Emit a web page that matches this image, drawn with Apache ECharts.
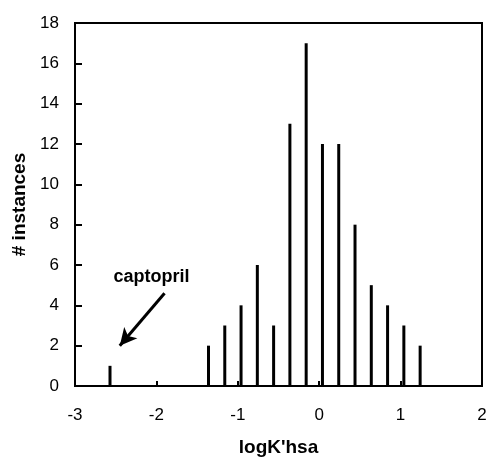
<!DOCTYPE html>
<html>
<head>
<meta charset="utf-8">
<script src="https://cdn.jsdelivr.net/npm/echarts@6/dist/echarts.min.js"></script>
<style>
  html, body { margin: 0; padding: 0; background: #fff; }
  #chart { width: 489px; height: 458px; }
</style>
</head>
<body>
<div id="chart"></div>
<script>
  // logK'hsa bin positions and counts
  const binX = [-2.57, -1.36, -1.16, -0.96, -0.76, -0.56, -0.36, -0.16, 0.04, 0.24, 0.44, 0.64, 0.84, 1.04, 1.24];
  const counts = [1, 2, 3, 4, 6, 3, 13, 17, 12, 12, 8, 5, 4, 3, 2];
  const xTicks = [-3, -2, -1, 0, 1, 2];
  const yTicks = [0, 2, 4, 6, 8, 10, 12, 14, 16, 18];
  // annotation arrow (data coords) and its label
  const arrowFrom = [-1.9, 4.6];
  const arrowTo = [-2.45, 2.0];
  const labelAt = [-2.06, 5.4];

  const font = 'Liberation Sans, Arial, Helvetica, sans-serif';
  const chart = echarts.init(document.getElementById('chart'));
  chart.setOption({
    animation: false,
    grid: {
      left: 75,
      right: 7,
      top: 23,
      bottom: 72,
      outerBoundsMode: 'none',
      show: true,
      borderColor: '#000',
      borderWidth: 2
    },
    xAxis: {
      type: 'value',
      min: xTicks[0],
      max: xTicks[xTicks.length - 1],
      interval: 1,
      name: "logK'hsa",
      nameLocation: 'middle',
      nameGap: 52,
      nameTextStyle: { color: '#000', fontSize: 19, fontWeight: 'bold', fontFamily: font },
      axisLine: { onZero: false, lineStyle: { color: '#000', width: 2 } },
      axisTick: { inside: true, length: 5, lineStyle: { color: '#000', width: 2 } },
      axisLabel: { color: '#000', fontSize: 17, fontFamily: font, margin: 21 },
      splitLine: { show: false }
    },
    yAxis: {
      type: 'value',
      min: yTicks[0],
      max: yTicks[yTicks.length - 1],
      interval: 2,
      name: '# instances',
      nameLocation: 'middle',
      nameGap: 45,
      nameTextStyle: { color: '#000', fontSize: 19, fontWeight: 'bold', fontFamily: font },
      axisLine: { show: true, onZero: false, lineStyle: { color: '#000', width: 2 } },
      axisTick: { show: true, inside: true, length: 7, lineStyle: { color: '#000', width: 2 } },
      axisLabel: { color: '#000', fontSize: 17, fontFamily: font, margin: 16 },
      splitLine: { show: false }
    },
    series: [
      {
        type: 'bar',
        data: binX.map((x, i) => [x, counts[i]]),
        barWidth: 3,
        itemStyle: { color: '#000' },
        markLine: {
          silent: true,
          symbol: ['none', 'arrow'],
          symbolSize: [13, 17],
          lineStyle: { color: '#000', width: 3, type: 'solid' },
          label: { show: false },
          data: [[{ coord: arrowFrom }, { coord: arrowTo }]]
        },
        markPoint: {
          silent: true,
          symbol: 'circle',
          symbolSize: 0,
          label: {
            show: true,
            formatter: 'captopril',
            color: '#000',
            fontSize: 18,
            fontWeight: 'bold',
            fontFamily: font
          },
          data: [{ coord: labelAt }]
        }
      }
    ]
  });
</script>
</body>
</html>
